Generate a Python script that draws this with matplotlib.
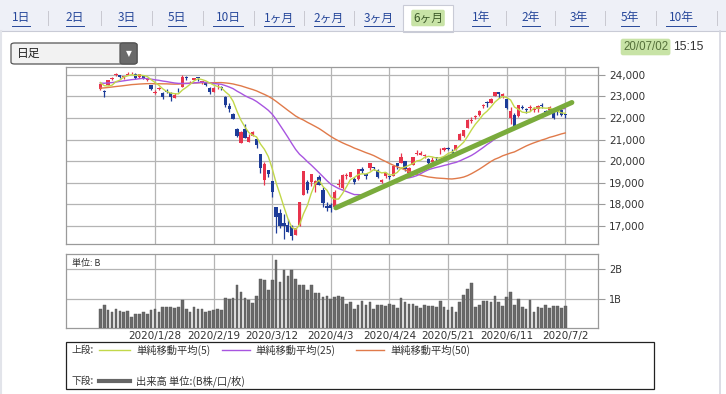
# Nikkei 225 - 6 month daily candle chart with moving averages and volume

import numpy as np
import pandas as pd
import matplotlib
matplotlib.use('Agg')
import matplotlib.pyplot as plt
from matplotlib.patches import Rectangle, FancyBboxPatch
from matplotlib.lines import Line2D

W, H = 726, 394
JP = ['Noto Sans CJK JP', 'DejaVu Sans']

# closes before the window (needed for the moving averages), 2019/10/23 - 2020/1/6
prior_closes = [22625, 22750, 22799, 22867, 22974, 22843, 22927, 22850, 23251, 23303,
                23330, 23391, 23331, 23520, 23319, 23141, 23303, 23416, 23292, 23148,
                23038, 23112, 23292, 23373, 23437, 23409, 23293, 23529, 23379, 23135,
                23300, 23354, 23430, 23410, 23391, 23424, 24023, 23952, 24066, 23934,
                23864, 23816, 23821, 23830, 23782, 23924, 23837, 23656, 23204]

# 2020/1/7 - 2020/7/2
opens = [23320, 23217, 23530, 23813, 23969, 23994, 23912, 24007, 24062, 24025,
         23881, 23962, 23740, 23541, 23155, 23318, 23168, 23211, 23157, 22903,
         23346, 23432, 23917, 23660, 23763, 23877, 23671, 23654, 23396, 23188,
         23461, 23437, 22961, 22567, 22193, 21487, 20849, 21472, 20897, 21181,
         21010, 20344, 19122, 19601, 19064, 17862, 17586, 17154, 17026, 16995,
         16570, 17059, 18446, 19052, 19021, 18884, 19269, 18686, 17934, 17951,
         17857, 18878, 18738, 19299, 19266, 19177, 19185, 19644, 19412, 19669,
         19738, 19581, 19018, 19315, 19318, 19325, 19899, 19919, 19991, 19468,
         19826, 20333, 20291, 20221, 20096, 19944, 20176, 20404, 20499, 20605,
         20440, 20527, 20978, 21170, 21548, 21870, 22056, 22114, 22530, 22750,
         22699, 23031, 23183, 23038, 22878, 22000, 22128, 22069, 22519, 22431,
         22471, 22388, 22394, 22602, 22306, 22386, 22280, 22300, 22390, 22164]
highs = [23577, 23303, 23767, 23903, 24059, 23997, 23962, 24115, 24108, 24064,
         24040, 23995, 23868, 23544, 23302, 23410, 23178, 23351, 23178, 23142,
         23375, 23995, 23922, 23732, 23871, 23887, 23713, 23657, 23442, 23454,
         23550, 23465, 22995, 22683, 22250, 21522, 21393, 21719, 21245, 21399,
         21011, 20347, 19970, 19612, 19064, 17862, 17785, 17557, 17309, 17049,
         16887, 18100, 19564, 19121, 19389, 19139, 19336, 18784, 18132, 18059,
         18672, 19162, 19387, 19453, 19520, 19255, 19655, 19725, 19445, 19922,
         19745, 19614, 19156, 19487, 19372, 19783, 19899, 20365, 20000, 19717,
         20179, 20534, 20456, 20348, 20140, 20182, 20180, 20588, 20637, 20642,
         20572, 20769, 21297, 21451, 21950, 22041, 22138, 22352, 22665, 22789,
         22907, 23178, 23185, 23145, 22906, 22526, 22251, 22582, 22599, 22451,
         22583, 22491, 22598, 22673, 22372, 22533, 22300, 22437, 22438, 22189]
lows = [23300, 22951, 23506, 23761, 23943, 23837, 23816, 23969, 24033, 23819,
        23853, 23781, 23717, 23314, 23115, 23277, 22892, 23148, 22775, 22903,
        23204, 23432, 23744, 23618, 23759, 23723, 23589, 23479, 23130, 23188,
        23324, 23304, 22499, 22255, 21948, 21116, 20834, 21071, 20897, 21152,
        20613, 19472, 18891, 19275, 18339, 16690, 16914, 16378, 16717, 16358,
        16570, 16978, 18446, 18513, 18832, 18578, 18917, 17871, 17707, 17646,
        17802, 18813, 18688, 19172, 19266, 18945, 19133, 19446, 19152, 19578,
        19574, 19237, 18991, 19206, 19179, 19325, 19614, 19919, 19530, 19448,
        19826, 20296, 20280, 20130, 19886, 19908, 19899, 20310, 20460, 20516,
        20315, 20500, 20978, 21137, 21548, 21751, 21968, 22096, 22455, 22521,
        22683, 22999, 22914, 22922, 22419, 21710, 21530, 22055, 22415, 22218,
        22338, 22292, 22280, 22468, 22120, 22283, 21964, 22149, 22112, 21980]
closes = [23575, 23204, 23739, 23850, 24025, 23916, 23933, 24041, 24083, 23864,
          24031, 23795, 23827, 23343, 23215, 23379, 22977, 23205, 22971, 23084,
          23319, 23873, 23827, 23685, 23861, 23827, 23687, 23523, 23193, 23400,
          23479, 23386, 22605, 22426, 21948, 21142, 21344, 21082, 21100, 21329,
          20749, 19698, 19867, 19416, 18559, 17431, 17002, 17011, 16726, 16552,
          16887, 18092, 19546, 18664, 19389, 19084, 18917, 18065, 17818, 17820,
          18576, 18950, 19353, 19345, 19498, 19043, 19638, 19550, 19290, 19897,
          19669, 19280, 19137, 19429, 19262, 19783, 19771, 20193, 19619, 19674,
          20179, 20390, 20366, 20267, 19914, 20037, 20133, 20433, 20595, 20552,
          20388, 20741, 21271, 21419, 21916, 21877, 22062, 22325, 22613, 22695,
          22863, 23178, 23091, 23124, 22472, 22305, 21530, 22582, 22455, 22355,
          22478, 22437, 22549, 22534, 22259, 22512, 21995, 22288, 22121, 22145]
# volume, billions of shares
volumes = [0.64, 0.80, 0.61, 0.55, 0.64, 0.57, 0.55, 0.57, 0.39, 0.46,
           0.49, 0.54, 0.48, 0.61, 0.64, 0.54, 0.70, 0.72, 0.70, 0.67,
           0.71, 0.96, 0.64, 0.54, 0.73, 0.64, 0.66, 0.55, 0.57, 0.61,
           0.64, 0.61, 1.03, 0.99, 1.03, 1.48, 1.24, 1.03, 0.97, 0.85,
           1.10, 1.67, 1.65, 1.28, 1.65, 2.30, 1.58, 1.99, 1.76, 1.99,
           1.67, 1.46, 1.46, 1.28, 1.48, 1.20, 1.20, 1.04, 1.08, 1.00,
           1.04, 1.08, 1.04, 0.83, 0.87, 0.64, 0.80, 0.92, 0.80, 0.87,
           0.64, 0.80, 0.78, 0.74, 0.83, 0.78, 0.67, 1.02, 0.87, 0.83,
           0.83, 0.76, 0.67, 0.80, 0.76, 0.74, 0.71, 0.92, 0.71, 0.61,
           0.71, 0.55, 0.87, 1.11, 1.34, 1.52, 0.71, 0.78, 0.92, 0.92,
           0.87, 1.08, 0.89, 0.74, 1.04, 1.21, 0.78, 0.99, 0.71, 0.64,
           0.97, 0.55, 0.71, 0.67, 0.80, 0.67, 0.74, 0.74, 0.67, 0.74]

tick_labels = ['2020/1/28', '2020/2/19', '2020/3/12', '2020/4/3',
               '2020/4/24', '2020/5/21', '2020/6/11', '2020/7/2']
tick_days = [15, 30, 45, 60, 75, 90, 105, 120]
price_ticks = [17000, 18000, 19000, 20000, 21000, 22000, 23000, 24000]

# hand drawn trend line (day index, price)
trend_x = [61.3, 121.7]
trend_y = [17840, 22715]

tabs = ['1日', '2日', '3日', '5日', '10日', '1ヶ月', '2ヶ月', '3ヶ月', '6ヶ月',
        '1年', '2年', '3年', '5年', '10年']
tab_x = [21, 75, 127, 177, 228, 279, 329, 379, 428, 481, 531, 579, 630, 681]

RED = '#e8344c'
BLUE = '#1d3c98'
GRID = '#b4b4b4'
SPINE = '#9a9a9a'


def fx(x):
    return x / W


def fy(y):
    return 1 - y / H


def add_axes(x0, y0, x1, y1):
    return fig.add_axes([fx(x0), fy(y1), (x1 - x0) / W, (y1 - y0) / H])


df = pd.DataFrame({'open': opens, 'high': highs, 'low': lows, 'close': closes, 'vol': volumes})
df.index = np.arange(1, len(df) + 1)
allc = pd.Series(prior_closes + closes)
n = len(df)
ma5 = allc.rolling(5).mean().values[-n:]
ma25 = allc.rolling(25).mean().values[-n:]
ma50 = allc.rolling(50).mean().values[-n:]
xs = df.index.values

fig = plt.figure(figsize=(W / 100, H / 100), dpi=100)
fig.patch.set_facecolor('white')

xlim = (15 - 89 / 3.907, 15 + 443 / 3.907)

# ---- price panel
ax = add_axes(66, 67, 598, 244)
ax.set_xlim(*xlim)
ax.set_ylim(16165, 24358)
ax.set_xticks(tick_days)
ax.set_xticklabels([])
ax.tick_params(axis='x', length=0)
ax.set_yticks(price_ticks)
ax.set_yticklabels(['{:,}'.format(p) for p in price_ticks], fontsize=7.5, color='#333333')
ax.yaxis.tick_right()
ax.tick_params(axis='y', length=5, width=0.8, color=SPINE, pad=3)
ax.grid(True, color=GRID, lw=0.9)
ax.set_axisbelow(True)
for s in ax.spines.values():
    s.set_color(SPINE)
    s.set_linewidth(0.9)

for i, r in df.iterrows():
    col = RED if r['close'] >= r['open'] else BLUE
    ax.vlines(i, r['low'], r['high'], color=col, lw=0.9, zorder=3)
    bottom = min(r['open'], r['close'])
    h = max(abs(r['close'] - r['open']), 25)
    ax.bar(i, h, bottom=bottom, width=0.85, color=col, lw=0, zorder=4)

ax.plot(xs, ma50, color='#e07a4a', lw=1.0, zorder=5)
ax.plot(xs, ma25, color='#a855e0', lw=1.0, zorder=5)
ax.plot(xs, ma5, color='#c2d84a', lw=1.0, zorder=5)
ax.plot(trend_x, trend_y, color='#7aab3c', lw=3.6, solid_capstyle='round', zorder=6)

# ---- volume panel
av = add_axes(66, 254, 598, 328)
av.set_xlim(*xlim)
av.set_ylim(0, 2.52)
av.bar(xs, df['vol'], width=0.68, color='#6a6a6a', edgecolor='#555555', lw=0.3, zorder=3)
av.set_yticks([1, 2])
av.set_yticklabels(['1B', '2B'], fontsize=7, color='#333333')
av.yaxis.tick_right()
av.tick_params(axis='y', length=5, width=0.8, color=SPINE, pad=3)
av.set_xticks(tick_days)
av.set_xticklabels(tick_labels, fontsize=7.5, color='#333333')
av.tick_params(axis='x', length=0, pad=2)
av.grid(True, color=GRID, lw=0.9)
av.set_axisbelow(True)
for s in av.spines.values():
    s.set_color(SPINE)
    s.set_linewidth(0.9)
av.text(0.012, 0.93, '単位: B', transform=av.transAxes, fontsize=6.5,
        family=JP, va='top', ha='left', color='#333333')

# ---- legend box
fig.add_artist(Rectangle((fx(66), fy(389)), (654 - 66) / W, (389 - 342) / H,
                         transform=fig.transFigure, fill=False, ec='#222222', lw=0.9))
fig.text(fx(72), fy(350), '上段:', family=JP, fontsize=7, va='center', color='#333333')
fig.text(fx(72), fy(381), '下段:', family=JP, fontsize=7, va='center', color='#333333')
leg = [(99, 130, 136, '#c2d84a', '単純移動平均(5)'),
       (222, 250, 255, '#a855e0', '単純移動平均(25)'),
       (356, 384, 390, '#e07a4a', '単純移動平均(50)')]
for a, b, t, c, lab in leg:
    fig.add_artist(Line2D([fx(a), fx(b)], [fy(350), fy(350)], color=c, lw=1.0,
                          transform=fig.transFigure))
    fig.text(fx(t), fy(350), lab, family=JP, fontsize=7.4, va='center', color='#333333')
fig.add_artist(Line2D([fx(99), fx(130)], [fy(381), fy(381)], color='#666666', lw=3,
                      transform=fig.transFigure))
fig.text(fx(136), fy(381), '出来高 単位:(B株/口/枚)', family=JP, fontsize=7.4,
         va='center', color='#333333')

# ---- tab bar
fig.add_artist(Rectangle((0, fy(31)), 1, 31 / H, transform=fig.transFigure,
                         fc='#eef0f7', ec='none', zorder=0))
fig.add_artist(Line2D([0, 1], [fy(31), fy(31)], color='#c9cbd6', lw=0.8,
                      transform=fig.transFigure))
fig.add_artist(Rectangle((fx(403), fy(32)), 50 / W, 27 / H, transform=fig.transFigure,
                         fc='white', ec='#c9cbd6', lw=0.8, zorder=1))
for k, (lab, x) in enumerate(zip(tabs, tab_x)):
    if lab == '6ヶ月':
        fig.text(fx(x), fy(18), lab, family=JP, fontsize=8.5, ha='center', va='center',
                 color='#3d5a2a', zorder=3,
                 bbox=dict(boxstyle='round,pad=0.15', fc='#c8e3a6', ec='none'))
    else:
        fig.text(fx(x), fy(18), lab, family=JP, fontsize=8.5, ha='center',
                 va='center', color='#26479a', zorder=3)
        half = 4.6 * len(lab) + (1 if len(lab) > 2 else 0)
        fig.add_artist(Line2D([fx(x - half), fx(x + half)], [fy(26), fy(26)],
                              color='#26479a', lw=0.7, transform=fig.transFigure))
    if k < len(tabs) - 1:
        sx = (x + tab_x[k + 1]) / 2
        if lab != '6ヶ月' and tabs[k + 1] != '6ヶ月':
            fig.add_artist(Line2D([fx(sx), fx(sx)], [fy(11), fy(25)], color='#c8c8d0',
                                  lw=0.7, transform=fig.transFigure))
fig.add_artist(Line2D([fx(717), fx(717)], [fy(11), fy(25)], color='#c8c8d0',
                      lw=0.7, transform=fig.transFigure))

# ---- dropdown + timestamp
fig.add_artist(FancyBboxPatch((fx(11), fy(64)), (137 - 11) / W, (64 - 43) / H,
                              boxstyle='round,pad=0,rounding_size=0.005',
                              transform=fig.transFigure, fc='#f2f2f2', ec='#555555', lw=0.9))
fig.add_artist(FancyBboxPatch((fx(120), fy(64)), (137 - 120) / W, (64 - 43) / H,
                              boxstyle='round,pad=0,rounding_size=0.005',
                              transform=fig.transFigure, fc='#6a6a6a', ec='#555555', lw=0.9))
fig.text(fx(128.5), fy(53.5), '▼', fontsize=5.5, color='white', ha='center', va='center')
fig.text(fx(17), fy(53.5), '日足', family=JP, fontsize=8.5, va='center', color='#222222')
fig.text(fx(623), fy(47), '20/07/02', fontsize=8.3, family=['Liberation Sans'],
         va='center', color='#55703a',
         bbox=dict(boxstyle='round,pad=0.2', fc='#c8e3a6', ec='none'))
fig.text(fx(673), fy(47), '15:15', fontsize=8.8, family=['Liberation Sans'],
         va='center', color='#333333')

# frame lines of the page
fig.add_artist(Line2D([fx(719.5), fx(719.5)], [fy(31), 0], color='#d5d7e0', lw=1.2,
                      transform=fig.transFigure))
fig.add_artist(Line2D([fx(1), fx(1)], [fy(31), 0], color='#e2e4ea', lw=1.5,
                      transform=fig.transFigure))

fig.savefig('out.png', dpi=100)
